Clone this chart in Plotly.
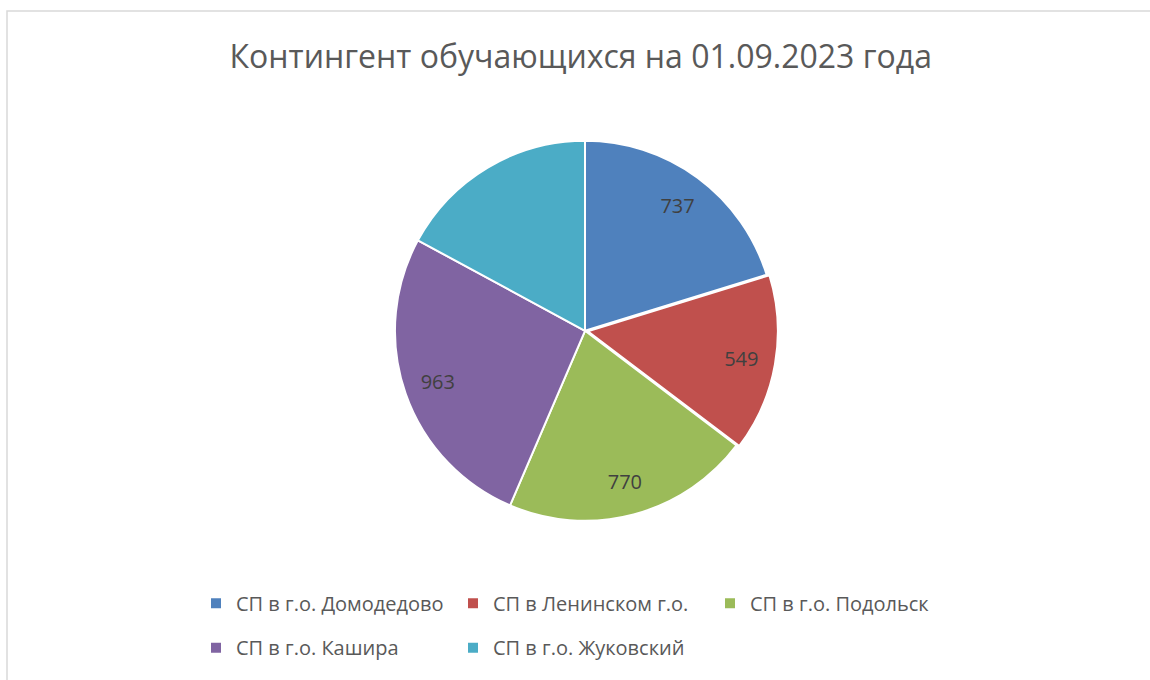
import plotly.graph_objects as go

categories = ["СП в г.о. Домодедово", "СП в Ленинском г.о.", "СП в г.о. Подольск",
              "СП в г.о. Кашира", "СП в г.о. Жуковский"]
values = [737, 549, 770, 963, 623]
show_label = [True, True, True, True, False]
pulls = [0, 0.015, 0, 0, 0]
colors = ["#4F81BD", "#C0504D", "#9BBB59", "#8064A2", "#4BACC6"]
title_text = "Контингент обучающихся на 01.09.2023 года"

W, H = 1150, 680
ML, MR, MT, MB = 190, 190, 11, 0
pw, ph = W - ML - MR, H - MT - MB

pie_domain = dict(x=[0.2625, 0.7635], y=[0.2335, 0.8105])

# legend labels: real text at 20px inside a taller legend row
legend_labels = ['<span style="font-size:20px;baseline-shift:5px">' + c + '</span>' for c in categories]

fig = go.Figure()
# coloured slices
fig.add_trace(go.Pie(
    labels=legend_labels,
    values=values,
    sort=False,
    direction="clockwise",
    rotation=0,
    pull=pulls,
    marker=dict(colors=colors, line=dict(color="white", width=2)),
    textinfo="none",
    customdata=categories,
    hovertemplate="%{customdata}: %{value}<extra></extra>",
    domain=pie_domain,
))
# value labels placed in an invisible ring near the rim
fig.add_trace(go.Pie(
    labels=legend_labels,
    values=values,
    sort=False,
    direction="clockwise",
    rotation=0,
    pull=pulls,
    hole=0.64,
    marker=dict(colors=["rgba(0,0,0,0)"] * len(values), line=dict(width=0)),
    texttemplate=["%{value}" if s else "" for s in show_label],
    textposition="inside",
    insidetextorientation="horizontal",
    textfont=dict(family="Open Sans", size=20, color="#404040"),
    hoverinfo="skip",
    showlegend=False,
    domain=pie_domain,
))

fig.update_layout(
    width=W, height=H,
    margin=dict(l=ML, t=MT, r=MR, b=MB),
    paper_bgcolor="white",
    plot_bgcolor="white",
    title=dict(text=title_text, x=0.505, xanchor="center", y=1 - 57 / H, yanchor="middle",
               xref="container", yref="container",
               font=dict(family="Open Sans", size=32, color="#595959")),
    legend=dict(orientation="h", x=0.0078, xanchor="left", y=0.1555, yanchor="top",
                font=dict(family="Open Sans", size=32, color="#595959"),
                entrywidth=212, entrywidthmode="pixels", traceorder="normal",
                itemclick=False),
    shapes=[dict(type="rect", xref="paper", yref="paper",
                 x0=(7 - ML) / pw, y0=-0.01, x1=(W - ML) / pw + 0.01, y1=1,
                 line=dict(color="#D9D9D9", width=1.5), layer="below")],
)

fig.write_html("out.html")
